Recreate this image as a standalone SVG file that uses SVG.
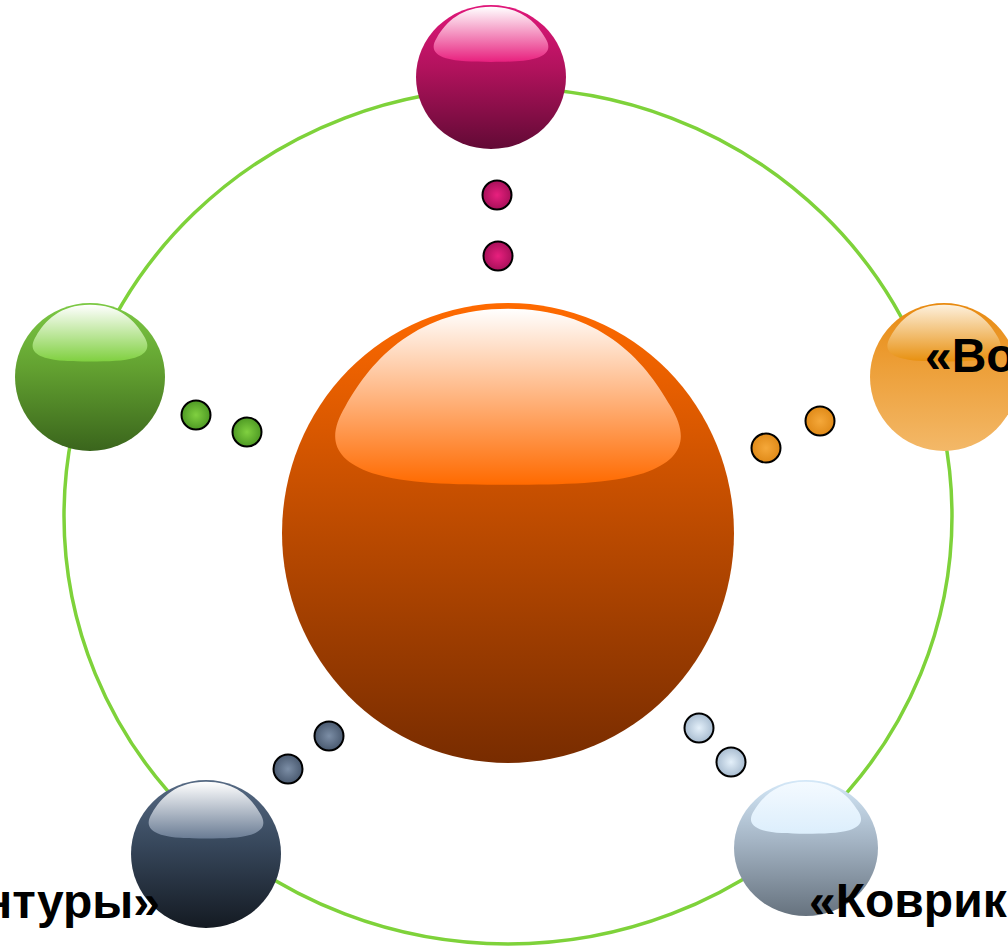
<svg xmlns="http://www.w3.org/2000/svg" xmlns:xlink="http://www.w3.org/1999/xlink" width="1008" height="947" viewBox="0 0 1008 947">
<style>
.ring{fill:none;stroke:#7ED23A;stroke-width:3.5}
.dot{stroke:#000;stroke-width:2}
.lbl{font-family:"Liberation Sans",Arial,sans-serif;font-weight:bold;font-size:48px;fill:#000}
</style>
<defs>
<path id="hl" d="M 0,-0.975 C 0.4,-0.975 0.6,-0.76 0.72,-0.55 C 0.8,-0.42 0.78,-0.32 0.6,-0.26 C 0.45,-0.215 0.25,-0.21 0,-0.21 C -0.25,-0.21 -0.45,-0.215 -0.6,-0.26 C -0.78,-0.32 -0.8,-0.42 -0.72,-0.55 C -0.6,-0.76 -0.4,-0.975 0,-0.975 Z"/>
<linearGradient id="gOr" x1="0" y1="0" x2="0" y2="1"><stop offset="0" stop-color="#FF6A00"/><stop offset="0.4" stop-color="#C85000"/><stop offset="1" stop-color="#782C00"/></linearGradient>
<linearGradient id="hOr" x1="0" y1="0" x2="0" y2="1"><stop offset="0" stop-color="#FFFFFF"/><stop offset="1" stop-color="#FF6A00"/></linearGradient>
<linearGradient id="gMg" x1="0" y1="0" x2="0" y2="1"><stop offset="0" stop-color="#E0177A"/><stop offset="0.45" stop-color="#B0125C"/><stop offset="1" stop-color="#620A35"/></linearGradient>
<linearGradient id="hMg" x1="0" y1="0" x2="0" y2="1"><stop offset="0" stop-color="#FFFFFF"/><stop offset="1" stop-color="#E8207E"/></linearGradient>
<linearGradient id="gGr" x1="0" y1="0" x2="0" y2="1"><stop offset="0" stop-color="#7CC944"/><stop offset="0.45" stop-color="#62A030"/><stop offset="1" stop-color="#3A651C"/></linearGradient>
<linearGradient id="hGr" x1="0" y1="0" x2="0" y2="1"><stop offset="0" stop-color="#FFFFFF"/><stop offset="1" stop-color="#80D040"/></linearGradient>
<linearGradient id="gYo" x1="0" y1="0" x2="0" y2="1"><stop offset="0" stop-color="#E88A10"/><stop offset="0.45" stop-color="#EDA03A"/><stop offset="1" stop-color="#F3B868"/></linearGradient>
<linearGradient id="hYo" x1="0" y1="0" x2="0" y2="1"><stop offset="0" stop-color="#FDF0DC"/><stop offset="1" stop-color="#E8900F"/></linearGradient>
<linearGradient id="gDk" x1="0" y1="0" x2="0" y2="1"><stop offset="0" stop-color="#566A84"/><stop offset="0.45" stop-color="#36465A"/><stop offset="1" stop-color="#141A22"/></linearGradient>
<linearGradient id="hDk" x1="0" y1="0" x2="0" y2="1"><stop offset="0" stop-color="#FFFFFF"/><stop offset="1" stop-color="#6A7C94"/></linearGradient>
<linearGradient id="gLt" x1="0" y1="0" x2="0" y2="1"><stop offset="0" stop-color="#D4E8F8"/><stop offset="0.45" stop-color="#A4B4C4"/><stop offset="1" stop-color="#66727E"/></linearGradient>
<linearGradient id="hLt" x1="0" y1="0" x2="0" y2="1"><stop offset="0" stop-color="#F4FAFF"/><stop offset="1" stop-color="#DCEEFC"/></linearGradient>
<radialGradient id="dMg"><stop offset="0" stop-color="#E8207E"/><stop offset="1" stop-color="#A8105A"/></radialGradient>
<radialGradient id="dGr"><stop offset="0" stop-color="#80D040"/><stop offset="1" stop-color="#4E9A24"/></radialGradient>
<radialGradient id="dYo"><stop offset="0" stop-color="#F5A83A"/><stop offset="1" stop-color="#E08A18"/></radialGradient>
<radialGradient id="dDk"><stop offset="0" stop-color="#7C8EA6"/><stop offset="1" stop-color="#4A5A70"/></radialGradient>
<radialGradient id="dLt"><stop offset="0" stop-color="#E4F0FA"/><stop offset="1" stop-color="#A8BCD0"/></radialGradient>
</defs>
<g id="connectors">
<ellipse class="ring" cx="508" cy="516" rx="444" ry="428"/>
<circle class="dot" cx="497" cy="195" r="14.5" fill="url(#dMg)"/>
<circle class="dot" cx="498" cy="256" r="14.5" fill="url(#dMg)"/>
<circle class="dot" cx="196" cy="415" r="14.5" fill="url(#dGr)"/>
<circle class="dot" cx="247" cy="432" r="14.5" fill="url(#dGr)"/>
<circle class="dot" cx="766" cy="448" r="14.5" fill="url(#dYo)"/>
<circle class="dot" cx="820" cy="421" r="14.5" fill="url(#dYo)"/>
<circle class="dot" cx="329" cy="736" r="14.5" fill="url(#dDk)"/>
<circle class="dot" cx="288" cy="769" r="14.5" fill="url(#dDk)"/>
<circle class="dot" cx="699" cy="728" r="14.5" fill="url(#dLt)"/>
<circle class="dot" cx="731" cy="762" r="14.5" fill="url(#dLt)"/>
</g>
<g id="center">
<ellipse cx="508" cy="533" rx="226" ry="230" fill="url(#gOr)"/>
<use xlink:href="#hl" href="#hl" transform="translate(508,533) scale(226,230)" fill="url(#hOr)"/>
</g>
<g id="top">
<ellipse cx="491" cy="77" rx="75" ry="72" fill="url(#gMg)"/>
<use xlink:href="#hl" href="#hl" transform="translate(491,77) scale(75,72)" fill="url(#hMg)"/>
</g>
<g id="left">
<ellipse cx="90" cy="377" rx="75" ry="74" fill="url(#gGr)"/>
<use xlink:href="#hl" href="#hl" transform="translate(90,377) scale(75,74)" fill="url(#hGr)"/>
</g>
<g id="right">
<ellipse cx="944" cy="377" rx="74" ry="74" fill="url(#gYo)"/>
<use xlink:href="#hl" href="#hl" transform="translate(944,377) scale(74,74)" fill="url(#hYo)"/>
<text class="lbl" x="925" y="372">«Во</text>
</g>
<g id="bottomLeft">
<ellipse cx="206" cy="854" rx="75" ry="74" fill="url(#gDk)"/>
<use xlink:href="#hl" href="#hl" transform="translate(206,854) scale(75,74)" fill="url(#hDk)"/>
<text class="lbl" x="160" y="918" text-anchor="end">нтуры»</text>
</g>
<g id="bottomRight">
<ellipse cx="806" cy="848" rx="72" ry="68" fill="url(#gLt)"/>
<use xlink:href="#hl" href="#hl" transform="translate(806,848) scale(72,68)" fill="url(#hLt)"/>
<text class="lbl" x="809" y="917">«Коврик</text>
</g>
</svg>
